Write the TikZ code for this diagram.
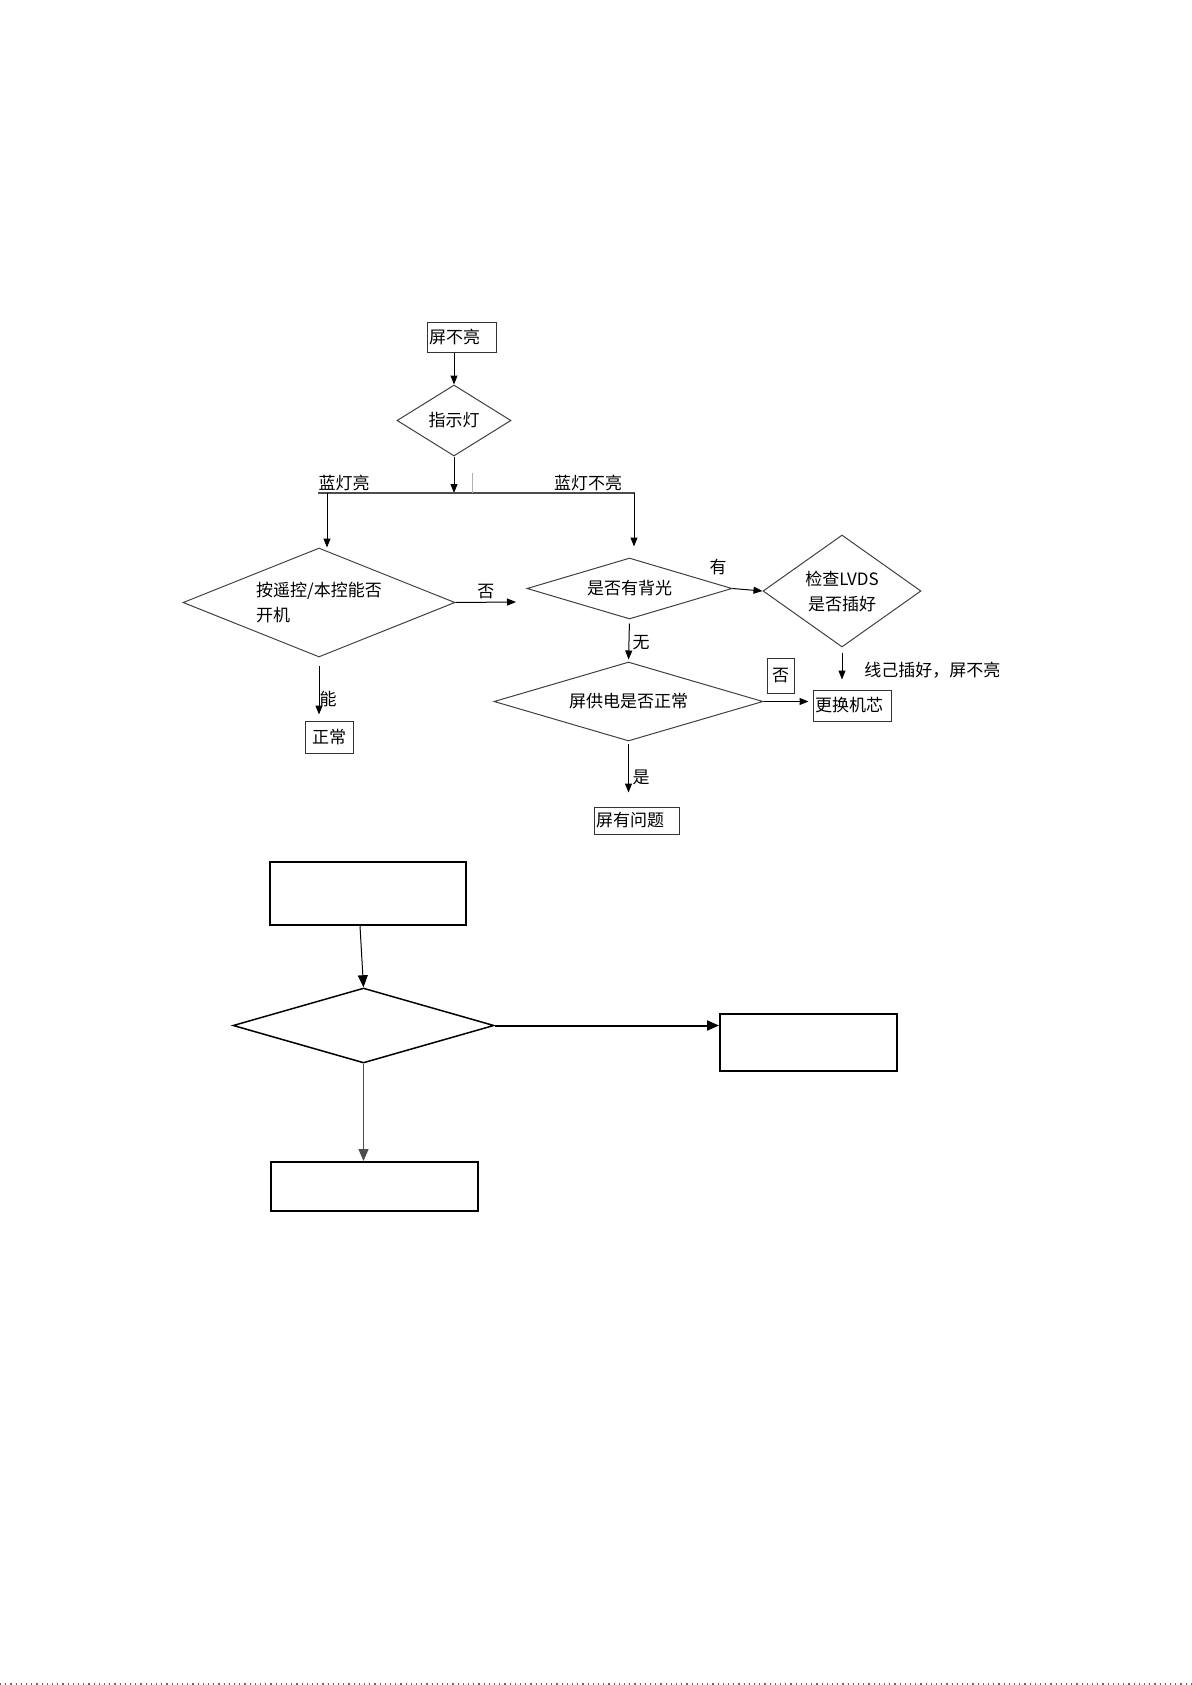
\documentclass[tikz,border=0pt]{standalone}
\usepackage{fontspec}
\setmainfont{Noto Sans CJK SC}
\usetikzlibrary{shapes.geometric, arrows.meta, positioning, calc}
\tikzset{
    block_box/.style={rectangle, draw=black!80, line width=0.5pt, inner sep=1pt, align=left, font=\fontsize{8.5}{10}\selectfont},
    block_diamond/.style={diamond, draw=black!75, line width=0.5pt, inner sep=0pt, align=left, font=\fontsize{8.5}{12.5}\selectfont},
    block_label/.style={inner sep=0pt, font=\fontsize{8.5}{10}\selectfont},
    block_big/.style={rectangle, draw, line width=1pt},
    diamond_big/.style={diamond, draw, line width=0.75pt, inner sep=0pt},
    arrow/.style={-{Triangle[length=4.5pt,width=3.5pt]}, line width=0.5pt},
    arrow_big/.style={-{Triangle[length=6pt,width=5pt]}}
}
\begin{document}
\begin{tikzpicture}[x=0.5pt,y=-0.5pt]
\useasboundingbox (0,0) rectangle (1191,1685);

% Upper chart
\node (pbl) [block_box,text width=32.5pt,minimum height=15pt] at (461.5,337) {屏不亮};
\node (zsd) [block_diamond,aspect=1.6,minimum width=57pt,minimum height=35.5pt] at (454,420.5) {指示灯};
\node (akz) [block_diamond,aspect=2.5,minimum width=136pt,minimum height=54.5pt] at (319,602.5) {按遥控/本控能否\\开机};
\node (bg) [block_diamond,aspect=3.36,minimum width=102.5pt,minimum height=30.5pt] at (629.5,588.5) {是否有背光};
\node (lvds) [block_diamond,align=center,aspect=1.41,minimum width=79pt,minimum height=56pt] at (842,591) {检查LVDS\\是否插好};
\node (gd) [block_diamond,aspect=3.4,minimum width=134.5pt,minimum height=39.5pt] at (628.5,701.5) {屏供电是否正常};
\node (zc) [block_box,align=center,minimum width=24pt,minimum height=16pt] at (329,737) {正常};
\node (ghjx) [block_box,text width=37pt,minimum height=15.5pt] at (852,705.5) {更换机芯};
\node (pywt) [block_box,text width=40.5pt,minimum height=13.5pt] at (636.5,820.5) {屏有问题};

\coordinate (jl) at (318,493);
\coordinate (jr) at (635,493);
\coordinate (jb) at (327,493);
\coordinate (jc) at (634,493);
\coordinate (tick) at (472,473);
\coordinate (bg_in) at (516,602);

% Main flow
\draw[arrow] (zsd.north |- pbl.south) -- (zsd.north);
\draw[arrow] (zsd.south) -- (zsd.south |- jl);
\draw[line width=0.6pt,black!70] (jl) -- (jr);
\draw[line width=0.3pt,black!30] (tick) -- (tick |- jl);
\node (lbl_on) [block_label,anchor=south] at (344,491) {蓝灯亮};
\node (lbl_off) [block_label,anchor=south] at (588,491) {蓝灯不亮};
\draw[arrow] (jb) -- (jb |- akz.north);
\draw[arrow,shorten >=5.5pt] (jc) -- (jc |- bg.north);

% Branches
\draw[arrow] (akz.east) -- node (lbl_no1) [block_label,above=1.5pt] {否} (bg_in);
\draw[arrow,shorten <=4pt,shorten >=3pt] (akz.south) -- (akz.south |- zc.north);
\node (lbl_can) [block_label] at (328,699) {能};

\draw[arrow] (bg.east) -- (lvds.west);
\node (lbl_has) [block_label] at (718,567) {有};
\draw[arrow,shorten <=2pt,shorten >=1pt] (bg.south) -- (gd.north);
\node (lbl_none) [block_label] at (641,643) {无};

\draw[arrow,shorten <=2.5pt,shorten >=5pt] (lvds.south) -- (lvds.south |- ghjx.north);
\node (lbl_plug) [block_label,anchor=west] at (864,670) {线己插好，屏不亮};

\draw[arrow,shorten >=2pt] (gd.east) -- (gd.east -| ghjx.west);
\node (lbl_no2) [block_box,align=center,minimum width=13.5pt,minimum height=17.5pt] at (780.5,675.5) {否};
\draw[arrow,shorten <=1pt,shorten >=7pt] (gd.south) -- (gd.south |- pywt.north);
\node (lbl_yes) [block_label] at (641,777) {是};

% Lower chart (empty)
\node (b_top) [block_big,minimum width=98pt,minimum height=31.5pt] at (368,893.5) {};
\node (b_dia) [diamond_big,minimum width=130.5pt,minimum height=37.5pt] at (363.5,1025.5) {};
\node (b_right) [block_big,minimum width=88.5pt,minimum height=28.5pt] at (808.5,1042.5) {};
\node (b_bot) [block_big,minimum width=103.5pt,minimum height=24.5pt] at (374.5,1186.5) {};

\draw[arrow_big,line width=0.5pt] ([xshift=-4pt]b_top.south) -- (b_dia.north);
\draw[arrow_big,line width=1pt] (b_dia.east) -- (b_dia.east -| b_right.west);
\draw[arrow_big,line width=0.5pt,black!70] (b_dia.south) -- (b_dia.south |- b_bot.north);

% page edge
\coordinate (edge_l) at (0,1684);
\coordinate (edge_r) at (1191,1684);
\draw[dotted,line width=0.6pt,black!60] (edge_l) -- (edge_r);

\end{tikzpicture}
\end{document}
